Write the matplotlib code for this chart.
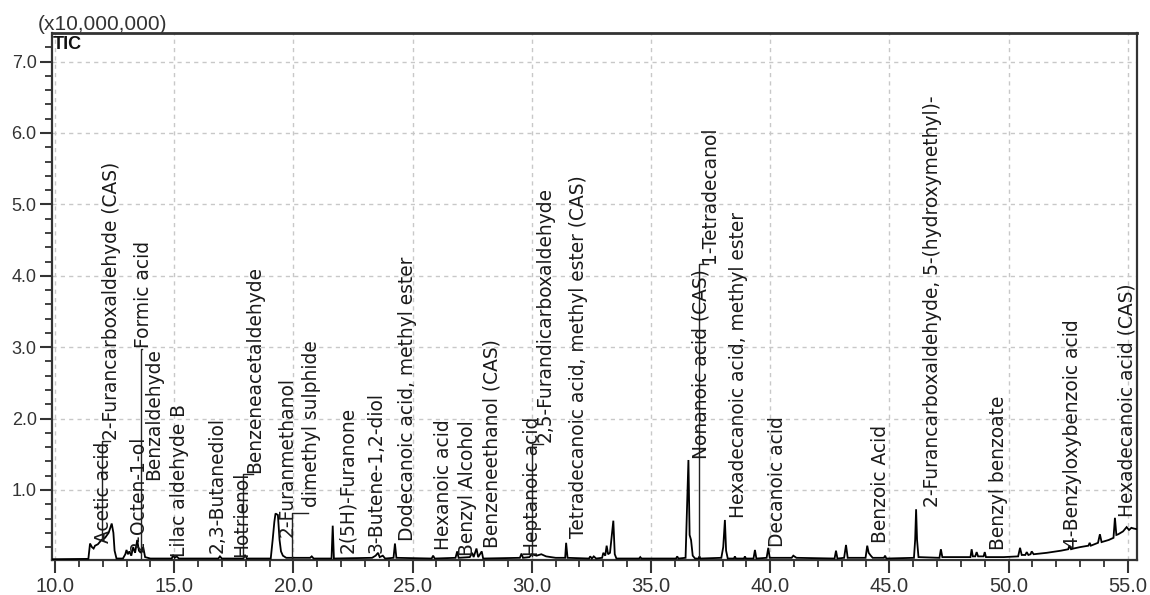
import matplotlib.pyplot as plt
from matplotlib.ticker import MultipleLocator, FormatStrFormatter

# TIC trace (retention time in min, intensity in units of 1e7 counts)
trace_rt = [9.86, 11.40, 11.47, 11.55, 11.62, 11.68, 11.80, 11.95, 12.10, 12.25, 12.38, 12.45,
            12.50, 12.58, 12.85, 12.95, 13.00, 13.06, 13.12, 13.20, 13.28, 13.36, 13.45, 13.52,
            13.60, 13.70, 13.78, 14.00, 14.90, 14.95, 15.02, 15.10, 15.20, 16.85, 16.92, 17.00,
            17.90, 17.97, 18.05, 19.05, 19.13, 19.20, 19.25, 19.35, 19.42, 19.48, 19.56, 19.70,
            20.70, 20.77, 20.85, 21.60, 21.65, 21.70, 23.30, 23.45, 23.55, 23.62, 23.75, 23.85,
            24.20, 24.26, 24.32, 25.80, 25.86, 25.93, 26.80, 26.87, 26.93, 27.40, 27.50, 27.56,
            27.68, 27.75, 27.90, 27.96, 29.50, 29.57, 29.63, 29.90, 30.00, 30.20, 30.40, 30.60,
            30.80, 31.00, 31.40, 31.44, 31.50, 32.40, 32.45, 32.52, 32.60, 32.70, 32.95, 33.00,
            33.08, 33.14, 33.20, 33.28, 33.35, 33.42, 33.48, 33.55, 34.50, 34.55, 34.60, 36.05,
            36.10, 36.15, 36.45, 36.57, 36.62, 36.68, 36.75, 36.85, 37.00, 37.03, 37.07, 37.95,
            38.03, 38.10, 38.15, 38.22, 38.48, 38.52, 38.56, 38.90, 38.94, 38.98, 39.30, 39.36,
            39.42, 39.85, 39.92, 39.98, 40.90, 40.97, 41.10, 42.70, 42.76, 42.82, 43.10, 43.18,
            43.25, 44.00, 44.07, 44.13, 44.22, 44.30, 44.77, 44.82, 44.87, 46.03, 46.08, 46.12,
            46.16, 46.22, 47.10, 47.16, 47.22, 48.40, 48.45, 48.50, 48.60, 48.66, 48.72, 48.95,
            49.00, 49.05, 49.80, 50.40, 50.48, 50.55, 50.70, 50.76, 50.83, 50.92, 50.97, 51.05,
            51.60, 52.20, 52.50, 52.55, 52.62, 52.72, 53.00, 53.35, 53.40, 53.45, 53.75, 53.83,
            53.90, 54.20, 54.40, 54.46, 54.52, 54.60, 54.80, 54.95, 55.05, 55.15, 55.25, 55.40]
trace_tic = [0.03, 0.035, 0.25, 0.20, 0.18, 0.22, 0.24, 0.30, 0.33, 0.40, 0.53, 0.40,
             0.15, 0.04, 0.04, 0.10, 0.16, 0.10, 0.14, 0.08, 0.20, 0.12, 0.30, 0.15,
             0.12, 0.20, 0.06, 0.04, 0.04, 0.09, 0.05, 0.07, 0.04, 0.04, 0.07, 0.04,
             0.04, 0.09, 0.04, 0.04, 0.30, 0.55, 0.67, 0.65, 0.30, 0.14, 0.08, 0.05,
             0.05, 0.07, 0.04, 0.04, 0.50, 0.04, 0.05, 0.08, 0.12, 0.06, 0.08, 0.04,
             0.05, 0.25, 0.05, 0.04, 0.08, 0.04, 0.05, 0.14, 0.05, 0.06, 0.12, 0.06,
             0.18, 0.06, 0.14, 0.04, 0.05, 0.11, 0.05, 0.06, 0.10, 0.08, 0.10, 0.07,
             0.06, 0.05, 0.05, 0.26, 0.05, 0.04, 0.07, 0.04, 0.07, 0.04, 0.05, 0.12,
             0.08, 0.22, 0.10, 0.12, 0.35, 0.57, 0.10, 0.04, 0.04, 0.06, 0.04, 0.04,
             0.07, 0.04, 0.05, 1.42, 0.37, 0.30, 0.08, 0.04, 0.04, 0.07, 0.04, 0.05,
             0.20, 0.58, 0.15, 0.04, 0.04, 0.07, 0.04, 0.04, 0.07, 0.04, 0.04, 0.16,
             0.04, 0.05, 0.19, 0.05, 0.05, 0.08, 0.05, 0.04, 0.15, 0.04, 0.05, 0.23,
             0.05, 0.05, 0.22, 0.12, 0.08, 0.05, 0.05, 0.08, 0.04, 0.05, 0.30, 0.73,
             0.30, 0.06, 0.05, 0.17, 0.06, 0.06, 0.17, 0.07, 0.07, 0.13, 0.07, 0.07,
             0.13, 0.06, 0.06, 0.07, 0.19, 0.09, 0.09, 0.13, 0.09, 0.10, 0.14, 0.10,
             0.12, 0.15, 0.17, 0.22, 0.17, 0.18, 0.20, 0.22, 0.26, 0.22, 0.26, 0.38,
             0.27, 0.30, 0.33, 0.61, 0.37, 0.38, 0.42, 0.48, 0.44, 0.47, 0.46, 0.45]

# identified compounds and where their names sit (rt, intensity at the foot of the text)
compounds = ["Acetic acid", "2-Furancarboxaldehyde (CAS)", "2-Octen-1-ol", "Formic acid",
             "Benzaldehyde", "Lilac aldehyde B", "2,3-Butanediol", "Hotrienol",
             "Benzeneacetaldehyde", "2-Furanmethanol", "dimethyl sulphide", "2(5H)-Furanone",
             "3-Butene-1,2-diol", "Dodecanoic acid, methyl ester", "Hexanoic acid",
             "Benzyl Alcohol", "Benzeneethanol (CAS)", "Heptanoic acid",
             "2,5-Furandicarboxaldehyde", "Tetradecanoic acid, methyl ester (CAS)",
             "Nonanoic acid (CAS)", "1-Tetradecanol", "Hexadecanoic acid, methyl ester",
             "Decanoic acid", "Benzoic Acid", "2-Furancarboxaldehyde, 5-(hydroxymethyl)-",
             "Benzyl benzoate", "4-Benzyloxybenzoic acid", "Hexadecanoic acid (CAS)"]
label_rt = [12.03, 12.39, 13.48, 13.72, 14.15, 15.24, 16.80, 17.84, 18.39, 19.73, 20.78, 22.29,
            23.46, 24.77, 26.28, 27.32, 28.33, 30.05, 30.55, 31.94, 37.10, 37.47, 38.65, 40.29,
            44.61, 46.79, 49.56, 52.66, 54.97]
label_base = [0.26, 1.70, 0.13, 2.99, 1.14, 0.06, 0.12, 0.06, 1.24, 0.34, 0.76, 0.12,
              0.12, 0.29, 0.16, 0.08, 0.19, 0.08, 1.67, 0.33, 1.43, 4.18, 0.61, 0.20,
              0.26, 0.76, 0.16, 0.19, 0.62]

# leader lines: peak rt, peak top, bend height, rt where the name starts
leader_rt = [11.98, 13.62, 17.90, 19.95, 30.02, 37.03]
leader_foot = [0.30, 0.05, 0.06, 0.05, 0.08, 0.07]
leader_top = [1.68, 2.97, 1.22, 0.68, 1.65, 4.16]
leader_end = [12.30, 13.66, 18.30, 20.62, 30.45, 37.38]

plt.rcParams['font.family'] = ['Liberation Sans', 'DejaVu Sans']

fig = plt.figure(figsize=(11.5, 5.95), dpi=100)
ax = fig.add_axes([0.0452, 0.0583, 0.9435, 0.8857])

ax.plot(trace_rt, trace_tic, color='black', lw=1.3, solid_joinstyle='miter', zorder=3)

for rt0, y0, y1, rt1 in zip(leader_rt, leader_foot, leader_top, leader_end):
    ax.plot([rt0, rt0, rt1], [y0, y1, y1], color='#222222', lw=1.0, zorder=3)

for name, rt, base in zip(compounds, label_rt, label_base):
    ax.text(rt, base, name, rotation=90, ha='center', va='bottom', fontsize=13.4,
            family='DejaVu Sans', color='#1a1a1a', zorder=4)

ax.set_xlim(9.874, 55.386)
ax.set_ylim(0.015, 7.396)

ax.xaxis.set_major_locator(MultipleLocator(5))
ax.xaxis.set_minor_locator(MultipleLocator(1))
ax.yaxis.set_major_locator(MultipleLocator(1))
ax.yaxis.set_minor_locator(MultipleLocator(0.2))
ax.xaxis.set_major_formatter(FormatStrFormatter('%.1f'))
ax.yaxis.set_major_formatter(FormatStrFormatter('%.1f'))

ax.tick_params(axis='both', which='major', direction='out', length=9, width=1.5,
               color='#333333', labelcolor='#333333')
ax.tick_params(axis='both', which='minor', direction='out', length=5, width=1.3,
               color='#333333')
ax.tick_params(axis='x', labelsize=14.5, pad=3)
ax.tick_params(axis='y', labelsize=13, pad=2)

ax.grid(True, which='major', color='#c8c8c8', lw=1.0, linestyle=(0, (3, 3)))
ax.set_axisbelow(True)

for side in ['left', 'right', 'top', 'bottom']:
    ax.spines[side].set_color('#333333')
    ax.spines[side].set_linewidth(1.6)
ax.spines['top'].set_linewidth(2.0)

fig.text(38 / 1150, 1 - 30 / 595, "(x10,000,000)", fontsize=15, color='#333333',
         ha='left', va='baseline')
ax.text(0.001, 0.995, "TIC", transform=ax.transAxes, fontsize=13, fontweight='bold',
        ha='left', va='top', color='#111111')

fig.savefig('out.png', dpi=100)
